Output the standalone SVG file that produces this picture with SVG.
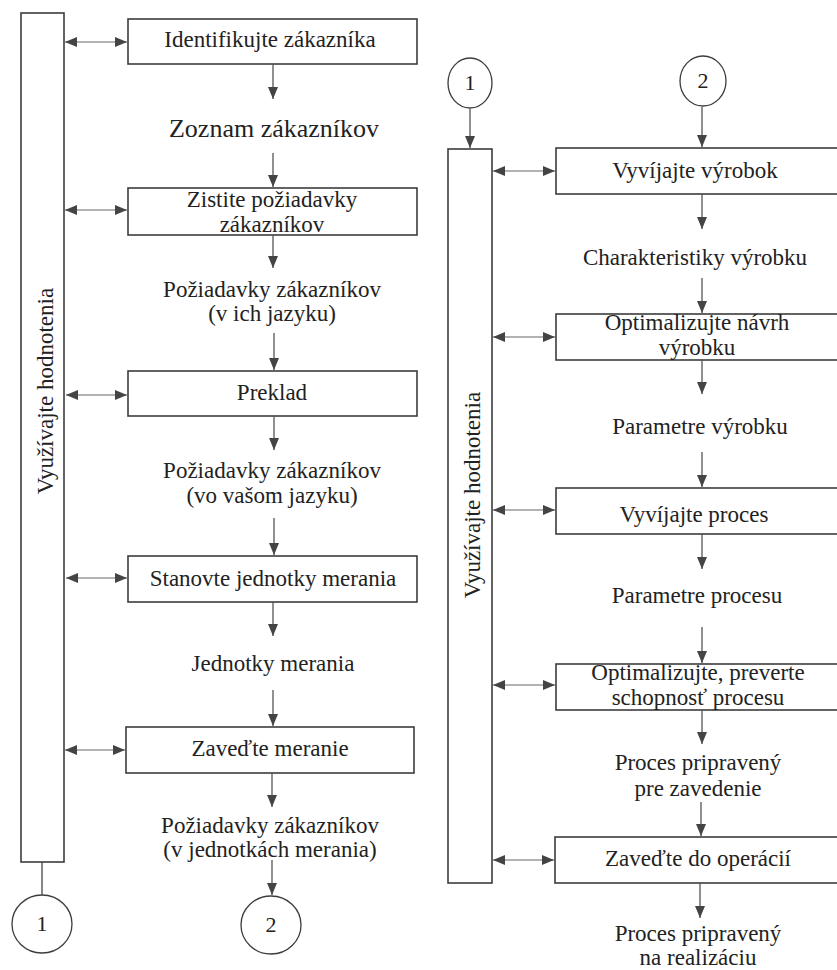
<svg xmlns="http://www.w3.org/2000/svg" width="837" height="970" viewBox="0 0 837 970">
  <style>
    .box { fill: #ffffff; stroke: #3c3c3c; stroke-width: 1.6; }
    .ring { fill: #ffffff; stroke: #3c3c3c; stroke-width: 1.3; }
    .two { stroke: #666666; stroke-width: 1.2; fill: none; marker-start: url(#head); marker-end: url(#head); }
    .down { stroke: #555555; stroke-width: 1.3; fill: none; marker-end: url(#head); }
  </style>
  <defs>
    <marker id="head" viewBox="0 0 12 10" refX="12" refY="5" markerWidth="12" markerHeight="10" markerUnits="userSpaceOnUse" orient="auto-start-reverse">
      <path d="M0,0 L12,5 L0,10 Z" fill="#444444"/>
    </marker>
  </defs>

  <rect width="837" height="970" fill="#ffffff"/>

  <g id="bar-left"><rect class="box" x="21" y="13" width="43" height="849"/></g>
  <g id="bar-right"><rect class="box" x="448" y="149" width="44" height="734"/></g>
  <g id="box-identify"><rect class="box" x="128" y="19" width="289" height="45"/></g>
  <g id="box-requirements"><rect class="box" x="128" y="188" width="289" height="47"/></g>
  <g id="box-translate"><rect class="box" x="128" y="371" width="289" height="45"/></g>
  <g id="box-units"><rect class="box" x="128" y="556" width="289" height="46"/></g>
  <g id="box-measure"><rect class="box" x="126" y="727" width="288" height="46"/></g>
  <g id="box-product"><rect class="box" x="556" y="148" width="290" height="46"/></g>
  <g id="box-design"><rect class="box" x="556" y="314" width="290" height="46"/></g>
  <g id="box-process"><rect class="box" x="556" y="488" width="290" height="46"/></g>
  <g id="box-capability"><rect class="box" x="556" y="664" width="290" height="46"/></g>
  <g id="box-operations"><rect class="box" x="555" y="837" width="291" height="46"/></g>
  <g id="rings">
    <ellipse class="ring" cx="42" cy="924" rx="30" ry="29"/>
    <ellipse class="ring" cx="271" cy="925" rx="30" ry="29"/>
    <ellipse class="ring" cx="470" cy="83" rx="22" ry="25"/>
    <ellipse class="ring" cx="703" cy="81" rx="23" ry="25"/>
  </g>

  <text font-family="Times New Roman, Tinos, Liberation Serif, serif" font-size="23" fill="#222222" text-anchor="middle" transform="translate(53,391) rotate(-90)">Využívajte hodnotenia</text>
  <text font-family="Times New Roman, Tinos, Liberation Serif, serif" font-size="23" fill="#222222" text-anchor="middle" x="270" y="47">Identifikujte zákazníka</text>
  <text font-family="Times New Roman, Tinos, Liberation Serif, serif" font-size="26" fill="#222222" text-anchor="middle" x="274" y="137">Zoznam zákazníkov</text>
  <text font-family="Times New Roman, Tinos, Liberation Serif, serif" font-size="23" fill="#222222" text-anchor="middle" x="272" y="207">Zistite požiadavky</text>
  <text font-family="Times New Roman, Tinos, Liberation Serif, serif" font-size="23" fill="#222222" text-anchor="middle" x="272" y="232">zákazníkov</text>
  <text font-family="Times New Roman, Tinos, Liberation Serif, serif" font-size="23" fill="#222222" text-anchor="middle" x="272" y="297">Požiadavky zákazníkov</text>
  <text font-family="Times New Roman, Tinos, Liberation Serif, serif" font-size="23" fill="#222222" text-anchor="middle" x="272" y="321">(v ich jazyku)</text>
  <text font-family="Times New Roman, Tinos, Liberation Serif, serif" font-size="23" fill="#222222" text-anchor="middle" x="272" y="400">Preklad</text>
  <text font-family="Times New Roman, Tinos, Liberation Serif, serif" font-size="23" fill="#222222" text-anchor="middle" x="272" y="478">Požiadavky zákazníkov</text>
  <text font-family="Times New Roman, Tinos, Liberation Serif, serif" font-size="23" fill="#222222" text-anchor="middle" x="272" y="503">(vo vašom jazyku)</text>
  <text font-family="Times New Roman, Tinos, Liberation Serif, serif" font-size="23" fill="#222222" text-anchor="middle" x="273" y="586">Stanovte jednotky merania</text>
  <text font-family="Times New Roman, Tinos, Liberation Serif, serif" font-size="23" fill="#222222" text-anchor="middle" x="273" y="671">Jednotky merania</text>
  <text font-family="Times New Roman, Tinos, Liberation Serif, serif" font-size="23" fill="#222222" text-anchor="middle" x="270" y="756">Zaveďte meranie</text>
  <text font-family="Times New Roman, Tinos, Liberation Serif, serif" font-size="23" fill="#222222" text-anchor="middle" x="270" y="833">Požiadavky zákazníkov</text>
  <text font-family="Times New Roman, Tinos, Liberation Serif, serif" font-size="23" fill="#222222" text-anchor="middle" x="270" y="857">(v jednotkách merania)</text>
  <text font-family="Times New Roman, Tinos, Liberation Serif, serif" font-size="22" fill="#222222" text-anchor="middle" x="42" y="931">1</text>
  <text font-family="Times New Roman, Tinos, Liberation Serif, serif" font-size="22" fill="#222222" text-anchor="middle" x="271" y="932">2</text>
  <text font-family="Times New Roman, Tinos, Liberation Serif, serif" font-size="22" fill="#222222" text-anchor="middle" x="470" y="90">1</text>
  <text font-family="Times New Roman, Tinos, Liberation Serif, serif" font-size="22" fill="#222222" text-anchor="middle" x="703" y="88">2</text>
  <text font-family="Times New Roman, Tinos, Liberation Serif, serif" font-size="23" fill="#222222" text-anchor="middle" transform="translate(480,495) rotate(-90)">Využívajte hodnotenia</text>
  <text font-family="Times New Roman, Tinos, Liberation Serif, serif" font-size="23" fill="#222222" text-anchor="middle" x="695" y="178">Vyvíjajte výrobok</text>
  <text font-family="Times New Roman, Tinos, Liberation Serif, serif" font-size="23" fill="#222222" text-anchor="middle" x="695" y="265">Charakteristiky výrobku</text>
  <text font-family="Times New Roman, Tinos, Liberation Serif, serif" font-size="23" fill="#222222" text-anchor="middle" x="697" y="330">Optimalizujte návrh</text>
  <text font-family="Times New Roman, Tinos, Liberation Serif, serif" font-size="23" fill="#222222" text-anchor="middle" x="697" y="355">výrobku</text>
  <text font-family="Times New Roman, Tinos, Liberation Serif, serif" font-size="23" fill="#222222" text-anchor="middle" x="700" y="434">Parametre výrobku</text>
  <text font-family="Times New Roman, Tinos, Liberation Serif, serif" font-size="23" fill="#222222" text-anchor="middle" x="694" y="522">Vyvíjajte proces</text>
  <text font-family="Times New Roman, Tinos, Liberation Serif, serif" font-size="23" fill="#222222" text-anchor="middle" x="697" y="603">Parametre procesu</text>
  <text font-family="Times New Roman, Tinos, Liberation Serif, serif" font-size="23" fill="#222222" text-anchor="middle" x="698" y="680">Optimalizujte, preverte</text>
  <text font-family="Times New Roman, Tinos, Liberation Serif, serif" font-size="23" fill="#222222" text-anchor="middle" x="698" y="705">schopnosť procesu</text>
  <text font-family="Times New Roman, Tinos, Liberation Serif, serif" font-size="23" fill="#222222" text-anchor="middle" x="698" y="770">Proces pripravený</text>
  <text font-family="Times New Roman, Tinos, Liberation Serif, serif" font-size="23" fill="#222222" text-anchor="middle" x="698" y="796">pre zavedenie</text>
  <text font-family="Times New Roman, Tinos, Liberation Serif, serif" font-size="23" fill="#222222" text-anchor="middle" x="698" y="866">Zaveďte do operácií</text>
  <text font-family="Times New Roman, Tinos, Liberation Serif, serif" font-size="23" fill="#222222" text-anchor="middle" x="698" y="941">Proces pripravený</text>
  <text font-family="Times New Roman, Tinos, Liberation Serif, serif" font-size="23" fill="#222222" text-anchor="middle" x="698" y="965">na realizáciu</text>

  <g id="connectors">
    <line class="two" x1="65" y1="42" x2="127" y2="42"/>
    <line class="two" x1="65" y1="210" x2="127" y2="210"/>
    <line class="two" x1="66" y1="395" x2="127" y2="395"/>
    <line class="two" x1="66" y1="578" x2="127" y2="578"/>
    <line class="two" x1="65" y1="750" x2="125" y2="750"/>
    <line class="two" x1="493" y1="171" x2="555" y2="171"/>
    <line class="two" x1="493" y1="337" x2="555" y2="337"/>
    <line class="two" x1="493" y1="510" x2="555" y2="510"/>
    <line class="two" x1="493" y1="685" x2="555" y2="685"/>
    <line class="two" x1="493" y1="860" x2="554" y2="860"/>
    <line class="down" x1="273" y1="64" x2="273" y2="99"/>
    <line class="down" x1="273" y1="153" x2="273" y2="187"/>
    <line class="down" x1="273" y1="235" x2="273" y2="268"/>
    <line class="down" x1="274" y1="333" x2="274" y2="370"/>
    <line class="down" x1="274" y1="416" x2="274" y2="450"/>
    <line class="down" x1="274" y1="518" x2="274" y2="555"/>
    <line class="down" x1="273" y1="602" x2="273" y2="636"/>
    <line class="down" x1="273" y1="690" x2="273" y2="726"/>
    <line class="down" x1="272" y1="773" x2="272" y2="807"/>
    <line class="down" x1="272" y1="860" x2="272" y2="895"/>
    <line class="down" x1="470" y1="109" x2="470" y2="148"/>
    <line class="down" x1="702" y1="107" x2="702" y2="147"/>
    <line class="down" x1="702" y1="194" x2="702" y2="229"/>
    <line class="down" x1="702" y1="278" x2="702" y2="313"/>
    <line class="down" x1="702" y1="360" x2="702" y2="394"/>
    <line class="down" x1="702" y1="452" x2="702" y2="487"/>
    <line class="down" x1="702" y1="534" x2="702" y2="569"/>
    <line class="down" x1="702" y1="627" x2="702" y2="663"/>
    <line class="down" x1="702" y1="710" x2="702" y2="744"/>
    <line class="down" x1="701" y1="802" x2="701" y2="836"/>
    <line class="down" x1="700" y1="883" x2="700" y2="918"/>
    <line x1="42" y1="862" x2="42" y2="895" stroke="#444444" stroke-width="1.3"/>
  </g>
</svg>
